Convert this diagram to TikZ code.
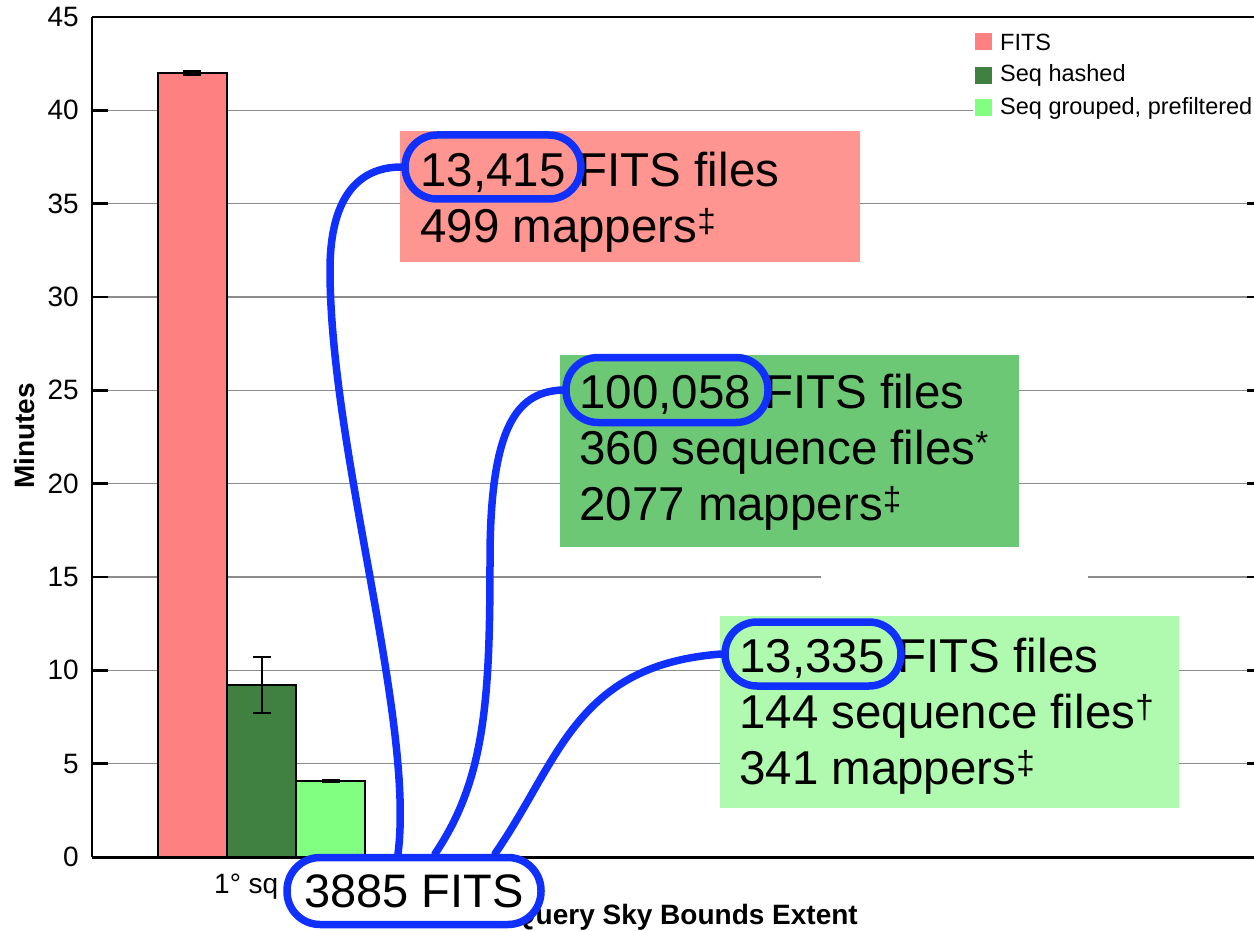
\documentclass[tikz,border=0pt]{standalone}
\usepackage{fontspec}
\setmainfont{Liberation Sans}
\definecolor{fitsred}{RGB}{255,128,128}
\definecolor{seqdark}{RGB}{64,128,64}
\definecolor{seqlight}{RGB}{128,255,128}
\definecolor{boxred}{RGB}{255,149,144}
\definecolor{boxgreen}{RGB}{109,200,118}
\definecolor{boxlight}{RGB}{175,250,175}
\definecolor{ovalblue}{RGB}{16,48,255}
\definecolor{gridgray}{RGB}{140,140,140}
\pgfdeclarelayer{front}
\pgfsetlayers{main,front}
\begin{document}
\begin{tikzpicture}[x=1pt,y=-1pt,
  gridline/.style={draw=gridgray, line width=1.3pt},
  axisline/.style={draw=black, line width=2.2pt},
  tickmark/.style={draw=black, line width=2.4pt},
  ticklabel/.style={font=\fontsize{28}{30}\selectfont, inner sep=0pt, anchor=east},
  bar/.style={draw=black, line width=1.5pt},
  errbar/.style={draw=black, line width=1.5pt},
  legtext/.style={font=\fontsize{23.5}{25}\selectfont, inner sep=0pt, anchor=west},
  callbox/.style={draw=none, inner sep=0pt, anchor=north west},
  calltext/.style={font=\fontsize{47.5}{55}\selectfont, inner sep=0pt, anchor=base west},
  oval/.style={draw=ovalblue, line width=7.5pt, inner sep=0pt},
  link/.style={draw=ovalblue, line width=7.5pt, line cap=round}
]
\useasboundingbox (0,0) rectangle (1254,931);

% grid lines
\foreach \v in {5,10,...,40}{
  \draw[gridline] (108,{857-\v*18.6667}) -- (1247,{857-\v*18.6667});
}
% gap in the 15 line
\fill[white] (821,570) rectangle (1088,585);

% legend
\fill[white] (973,22) rectangle (1254,120);
\fill[fitsred] (975,33) rectangle (992,50);
\fill[seqdark] (975,67) rectangle (992,84);
\fill[seqlight] (975,99) rectangle (992,116);
\node[legtext] (lg1) at (1000,42) {FITS};
\node[legtext] (lg2) at (1000,75) {Seq hashed};
\node[legtext] (lg3) at (1000,108) {Seq grouped, prefiltered};

% bars
\draw[bar, fill=fitsred] (158,857) rectangle (227,73);
\draw[bar, fill=seqdark] (227,857) rectangle (296,685);
\draw[bar, fill=seqlight] (296,857) rectangle (365,781);

% error bars
\draw[errbar] (192,71) -- (192,75) (183,71) -- (201,71) (183,75) -- (201,75);
\draw[errbar] (262,657) -- (262,713) (253,657) -- (271,657) (253,713) -- (271,713);
\draw[errbar] (331,780) -- (331,782) (322,780) -- (340,780) (322,782) -- (340,782);

% axes
\draw[axisline] (92,17) -- (92,857);
\draw[axisline] (92,17) -- (1254,17);
\draw[draw=black, line width=3pt] (92,857) -- (1254,857);

% ticks and labels
\foreach \v in {0,5,...,45}{
  \draw[tickmark] (92,{857-\v*18.6667}) -- (108,{857-\v*18.6667});
  \node[ticklabel] (yl\v) at (79,{857-\v*18.6667}) {\v};
}
\foreach \v in {5,10,...,35}{
  \draw[tickmark] (1247,{857-\v*18.6667}) -- (1254,{857-\v*18.6667});
}

\node[rotate=90, inner sep=0pt, font=\bfseries\fontsize{28}{30}\selectfont] (ylab) at (24,436) {Minutes};
\node[inner sep=0pt, anchor=base west, font=\fontsize{28}{30}\selectfont] (xtick) at (214,893) {1° sq};
\node[inner sep=0pt, anchor=base east, font=\bfseries\fontsize{28}{30}\selectfont] (xlab) at (858,924) {Query Sky Bounds Extent};

% callout boxes
\node[callbox, fill=boxred, minimum width=460pt, minimum height=131pt] (b1) at (400,131) {};
\node[callbox, fill=boxgreen, minimum width=459pt, minimum height=192pt] (b2) at (560,355) {};
\node[callbox, fill=boxlight, minimum width=459pt, minimum height=192pt] (b3) at (720,616) {};

\node[calltext] (b1a) at (420,186) {13,415 FITS files};
\node[calltext] (b1b) at (420,242) {499 mappers\textsuperscript{‡}};

\node[calltext] (b2a) at (579,408) {100,058 FITS files};
\node[calltext] (b2b) at (579,464) {360 sequence files\textsuperscript{*}};
\node[calltext] (b2c) at (579,520) {2077 mappers\textsuperscript{‡}};

\node[calltext] (b3a) at (739,672) {13,335 FITS files};
\node[calltext] (b3b) at (739,728) {144 sequence files\textsuperscript{†}};
\node[calltext] (b3c) at (739,784) {341 mappers\textsuperscript{‡}};

% ovals
\node[oval, minimum width=176pt, minimum height=64pt, rounded corners=32pt] (o1) at (493,167) {};
\node[oval, minimum width=202pt, minimum height=65pt, rounded corners=32pt] (o2) at (667,390) {};
\node[oval, minimum width=176pt, minimum height=64pt, rounded corners=32pt] (o3) at (813,654) {};

\begin{pgfonlayer}{front}
\node[oval, fill=white, minimum width=254pt, minimum height=67pt, rounded corners=33pt,
  font=\fontsize{47}{50}\selectfont] (o4) at (414,891) {3885 FITS};
\end{pgfonlayer}

% connectors
\draw[link] ([xshift=-16pt]o4.north) .. controls (415,720) and (330,450) .. (330,270)
  .. controls (330,195) and (360,167) .. (o1.west);
\draw[link] ([xshift=21pt]o4.north) .. controls (485,780) and (490,700) .. (490,560)
  .. controls (490,420) and (520,392) .. (o2.west);
\draw[link] ([xshift=81pt]o4.north) .. controls (560,760) and (575,665) .. (o3.west);
\end{tikzpicture}
\end{document}
